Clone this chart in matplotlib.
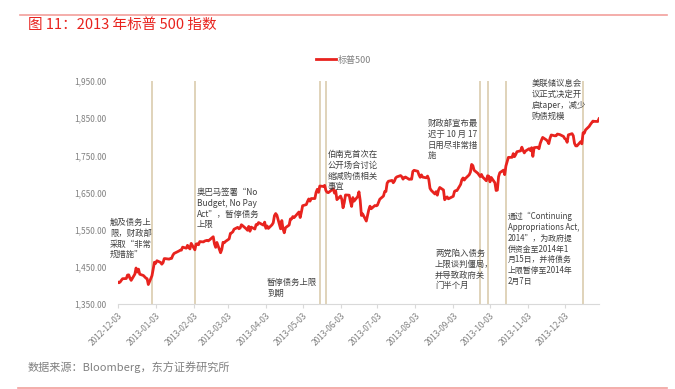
import datetime as dt
import matplotlib
matplotlib.use("Agg")
import matplotlib.pyplot as plt
import matplotlib.dates as mdates
from matplotlib.ticker import FuncFormatter

plt.rcParams['font.family'] = ['Noto Sans CJK SC', 'DejaVu Sans']

# 标普500 收盘价，按月（交易日, 收盘）
dec12_day = [3, 4, 5, 6, 7, 10, 11, 12, 13, 14, 17, 18, 19, 20, 21, 24, 26, 27, 28, 31]
dec12_val = [1409.46, 1407.05, 1409.28, 1413.94, 1418.07, 1418.55, 1427.84, 1428.48, 1419.45, 1413.58,
             1430.36, 1446.79, 1435.81, 1443.69, 1430.15, 1426.66, 1419.83, 1418.10, 1402.43, 1426.19]
jan_day = [2, 3, 4, 7, 8, 9, 10, 11, 14, 15, 16, 17, 18, 22, 23, 24, 25, 28, 29, 30, 31]
jan_val = [1462.42, 1459.37, 1466.47, 1461.89, 1457.15, 1461.02, 1472.12, 1472.05, 1470.68, 1472.34, 1472.63,
           1480.94, 1485.98, 1492.56, 1494.81, 1494.82, 1502.96, 1500.18, 1507.84, 1501.96, 1498.11]
feb_day = [1, 4, 5, 6, 7, 8, 11, 12, 13, 14, 15, 19, 20, 21, 22, 25, 26, 27, 28]
feb_val = [1513.17, 1495.71, 1511.29, 1512.12, 1509.39, 1517.93, 1517.01, 1519.43, 1520.33, 1521.38,
           1519.79, 1530.94, 1511.95, 1502.42, 1515.60, 1487.85, 1496.94, 1515.99, 1514.68]
mar_day = [1, 4, 5, 6, 7, 8, 11, 12, 13, 14, 15, 18, 19, 20, 21, 22, 25, 26, 27, 28]
mar_val = [1518.20, 1525.20, 1539.79, 1541.46, 1544.26, 1551.18, 1556.22, 1552.48, 1554.52, 1563.23,
           1560.70, 1552.10, 1548.34, 1558.71, 1545.80, 1556.89, 1551.69, 1563.77, 1562.85, 1569.19]
apr_day = [1, 2, 3, 4, 5, 8, 9, 10, 11, 12, 15, 16, 17, 18, 19, 22, 23, 24, 25, 26, 29, 30]
apr_val = [1562.17, 1570.25, 1553.69, 1559.98, 1553.28, 1563.07, 1568.61, 1587.73, 1593.37, 1588.85, 1552.36,
           1574.57, 1552.01, 1541.61, 1555.25, 1562.50, 1578.78, 1578.79, 1585.16, 1582.24, 1593.61, 1597.57]
may_day = [1, 2, 3, 6, 7, 8, 9, 10, 13, 14, 15, 16, 17, 20, 21, 22, 23, 24, 28, 29, 30, 31]
may_val = [1582.70, 1597.59, 1614.42, 1617.50, 1625.96, 1632.69, 1626.67, 1633.70, 1633.77, 1650.34, 1658.78,
           1650.47, 1667.47, 1666.29, 1669.16, 1655.35, 1650.51, 1649.60, 1660.06, 1648.36, 1654.41, 1630.74]
jun_day = [3, 4, 5, 6, 7, 10, 11, 12, 13, 14, 17, 18, 19, 20, 21, 24, 25, 26, 27, 28]
jun_val = [1640.42, 1631.38, 1608.90, 1622.56, 1643.38, 1642.81, 1626.13, 1612.52, 1636.36, 1626.73,
           1639.04, 1651.81, 1628.93, 1588.19, 1592.43, 1573.09, 1588.03, 1603.26, 1613.20, 1606.28]
jul_day = [1, 2, 3, 5, 8, 9, 10, 11, 12, 15, 16, 17, 18, 19, 22, 23, 24, 25, 26, 29, 30, 31]
jul_val = [1614.96, 1614.08, 1615.41, 1631.89, 1640.46, 1652.32, 1652.62, 1675.02, 1680.19, 1682.50, 1676.26,
           1680.91, 1689.37, 1692.09, 1695.53, 1692.39, 1685.94, 1690.25, 1691.65, 1685.33, 1685.96, 1685.73]
aug_day = [1, 2, 5, 6, 7, 8, 9, 12, 13, 14, 15, 16, 19, 20, 21, 22, 23, 26, 27, 28, 29, 30]
aug_val = [1706.87, 1709.67, 1707.14, 1697.37, 1690.91, 1697.48, 1691.42, 1689.47, 1694.16, 1685.39, 1661.32,
           1655.83, 1646.06, 1652.35, 1642.80, 1656.96, 1663.50, 1656.78, 1630.48, 1634.96, 1638.17, 1632.97]
sep_day = [3, 4, 5, 6, 9, 10, 11, 12, 13, 16, 17, 18, 19, 20, 23, 24, 25, 26, 27, 30]
sep_val = [1639.77, 1653.08, 1655.08, 1655.17, 1671.71, 1683.99, 1689.13, 1683.42, 1687.99, 1697.60,
           1704.76, 1725.52, 1722.34, 1709.91, 1701.84, 1697.42, 1692.77, 1698.67, 1691.75, 1681.55]
oct_day = [1, 2, 3, 4, 7, 8, 9, 10, 11, 14, 15, 16, 17, 18, 21, 22, 23, 24, 25, 28, 29, 30, 31]
oct_val = [1695.00, 1693.87, 1678.66, 1690.50, 1676.12, 1655.45, 1656.40, 1692.56, 1703.20, 1710.14, 1698.06,
           1721.54, 1733.15, 1744.50, 1744.66, 1754.67, 1746.38, 1752.07, 1759.77, 1762.11, 1771.95, 1763.31,
           1756.54]
nov_day = [1, 4, 5, 6, 7, 8, 11, 12, 13, 14, 15, 18, 19, 20, 21, 22, 25, 26, 27, 29]
nov_val = [1761.64, 1767.93, 1762.97, 1770.49, 1747.15, 1770.61, 1771.89, 1767.69, 1782.00, 1790.62,
           1798.18, 1791.53, 1787.87, 1781.37, 1795.85, 1804.76, 1802.48, 1802.75, 1807.23, 1805.81]
dec13_day = [2, 3, 4, 5, 6, 9, 10, 11, 12, 13, 16, 17, 18, 19, 20, 23, 24, 26, 27, 30, 31]
dec13_val = [1800.90, 1795.15, 1792.81, 1785.03, 1805.09, 1808.37, 1802.62, 1782.22, 1775.50, 1775.32, 1786.54,
             1781.00, 1810.65, 1809.60, 1818.32, 1827.99, 1833.32, 1842.02, 1841.40, 1841.07, 1848.36]

months = [(2012, 12, dec12_day, dec12_val), (2013, 1, jan_day, jan_val), (2013, 2, feb_day, feb_val),
          (2013, 3, mar_day, mar_val), (2013, 4, apr_day, apr_val), (2013, 5, may_day, may_val),
          (2013, 6, jun_day, jun_val), (2013, 7, jul_day, jul_val), (2013, 8, aug_day, aug_val),
          (2013, 9, sep_day, sep_val), (2013, 10, oct_day, oct_val), (2013, 11, nov_day, nov_val),
          (2013, 12, dec13_day, dec13_val)]

dates, closes = [], []
for y, m, days, vals in months:
    dates += [dt.date(y, m, d) for d in days]
    closes += vals

# 事件竖线
event_dates = ["2012-12-31", "2013-02-04", "2013-05-17", "2013-05-22",
               "2013-09-25", "2013-10-01", "2013-10-16", "2013-12-18"]

# 注释 (左, 上, 字号, 文本) 像素位置
notes = [
    (110, 218, 6, "触及债务上\n限，财政部\n采取“非常\n规措施”"),
    (197, 188, 6, "奥巴马签署“No\nBudget, No Pay\nAct”，暂停债务\n上限"),
    (267, 278, 6, "暂停债务上限\n到期"),
    (328, 150, 6, "伯南克首次在\n公开场合讨论\n缩减购债相关\n事宜"),
    (428, 119, 6, "财政部宣布最\n迟于 10 月 17\n日用尽非常措\n施"),
    (435, 249, 6, "两党陷入债务\n上限谈判僵局，\n并导致政府关\n门半个月"),
    (508, 212, 5.7, "通过“Continuing\nAppropriations Act,\n2014”，为政府提\n供资金至2014年1\n月15日，并将债务\n上限暂停至2014年\n2月7日"),
    (532, 79, 6, "美联储议息会\n议正式决定开\n启taper，减少\n购债规模"),
]

W, H = 675, 389
fig = plt.figure(figsize=(W / 100, H / 100), dpi=100)
ax = fig.add_axes([117.7 / W, 1 - 304 / H, (599 - 117.7) / W, (304 - 81) / H])

for d in event_dates:
    ax.axvline(dt.datetime.strptime(d, "%Y-%m-%d"), color="#ddd0b4", lw=1.3, zorder=1)

ax.plot(dates, closes, color="#e8231e", lw=2.0, label="标普500", zorder=3)

ax.set_ylim(1350, 1950)
ax.set_yticks(range(1350, 1951, 100))
ax.yaxis.set_major_formatter(FuncFormatter(lambda v, p: f"{v:,.2f}"))
ax.set_xlim(dt.date(2012, 12, 3), dt.date(2013, 12, 31))
ax.xaxis.set_major_locator(mdates.MonthLocator(bymonthday=3))
ax.xaxis.set_major_formatter(mdates.DateFormatter("%Y-%m-%d"))

for s in ["top", "right", "left"]:
    ax.spines[s].set_visible(False)
ax.spines["bottom"].set_color("#d9d9d9")
ax.tick_params(axis="y", length=0, labelsize=6, labelcolor="#808080", pad=8)
ax.tick_params(axis="x", length=3, color="#d9d9d9", labelsize=6, labelcolor="#808080", pad=2)
for lab in ax.get_xticklabels():
    lab.set_rotation(45)
    lab.set_ha("right")
    lab.set_rotation_mode("anchor")

for x, y, fs, t in notes:
    fig.text(x / W, 1 - y / H, t, fontsize=fs, color="#404040", va="top", ha="left", linespacing=1.25)

leg = ax.legend(loc="center", bbox_to_anchor=(344 / W, 1 - 60 / H), bbox_transform=fig.transFigure,
                frameon=False, fontsize=6.5, handlelength=2.2, handletextpad=0.2, labelcolor="#808080")

# 标题、来源与分隔线
fig.text(28 / W, 1 - 25 / H, "图 11：2013 年标普 500 指数", fontsize=10.5, color="#e8231e", va="center", ha="left")
fig.text(28 / W, 1 - 367 / H, "数据来源：Bloomberg，东方证券研究所", fontsize=8, color="#808080", va="center", ha="left")
fig.add_artist(plt.Line2D([20 / W, 667 / W], [1 - 15 / H, 1 - 15 / H], color="#f2a09c", lw=1.2))
fig.add_artist(plt.Line2D([18 / W, 667 / W], [1 - 388 / H, 1 - 388 / H], color="#f2a09c", lw=1.2))

fig.savefig("out.png", dpi=100)
